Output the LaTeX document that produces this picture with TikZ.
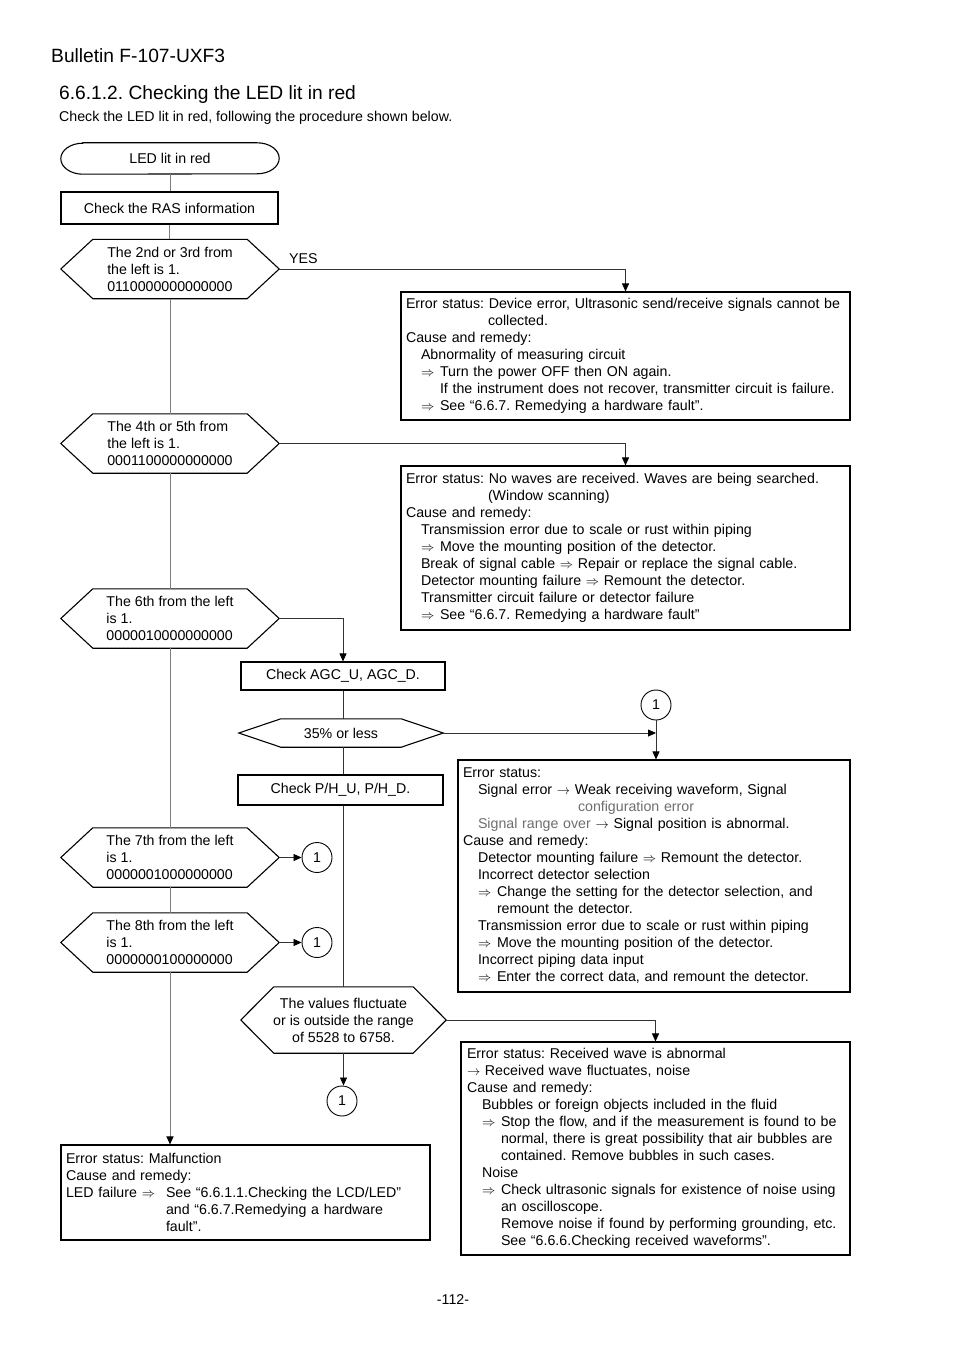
\documentclass[tikz,border=0pt]{standalone}
\usepackage{fontspec}
\setmainfont{Liberation Sans}
\frenchspacing
\usetikzlibrary{arrows.meta}
\definecolor{txtgray}{RGB}{110,110,110}
\definecolor{spinegray}{RGB}{125,125,125}
\newcommand\RA{\scalebox{0.92}{$\Rightarrow$}}
\newcommand\RI{\scalebox{0.92}{$\rightarrow$}}
\newcommand\IA{\hspace*{15pt}}
\newcommand\AR{\makebox[19pt][l]{\RA}}
\newcommand\hexdraw[2]{\draw[boxline] (#1.west) -- ([xshift=#2]#1.north west) -- ([xshift=-#2]#1.north east) -- (#1.east) -- ([xshift=-#2]#1.south east) -- ([xshift=#2]#1.south west) -- cycle;}
\tikzset{
  txt/.style={font=\fontsize{14.2}{17}\selectfont},
  boxline/.style={draw=black, line width=1.1pt},
  pbox/.style={txt, draw=black, line width=1.1pt, rectangle, inner ysep=0pt, align=left},
  sbox/.style={txt, draw=black, line width=1.1pt, rectangle, inner sep=0pt, align=center},
  hexnode/.style={txt, rectangle, inner sep=0pt, align=left},
  conn/.style={draw=black!80, line width=0.8pt},
  spine/.style={draw=spinegray, line width=1pt},
  arr/.style={-{Triangle[length=8pt,width=7pt,color=black]}},
  circ/.style={txt, circle, draw=black, line width=0.9pt, minimum size=30pt, inner sep=0pt}
}
\begin{document}
\begin{tikzpicture}[x=1pt,y=-1pt]
\path[use as bounding box, fill=white] (0,0) rectangle (954,1351);

% headings
\node[anchor=base west, inner sep=0pt, font=\fontsize{19.2}{22}\selectfont] (hd1) at (51,63) {Bulletin F-107-UXF3};
\node[anchor=base west, inner sep=0pt, font=\fontsize{19.2}{22}\selectfont] (hd2) at (59,99.5) {6.6.1.2. Checking the LED lit in red};
\node[anchor=base west, inner sep=0pt, txt] (hd3) at (59,122) {Check the LED lit in red, following the procedure shown below.};
\node[inner sep=0pt, txt] (pg) at (453,1300) {-112-};

% terminator
\node[txt, inner sep=0pt, minimum width=218pt, minimum height=31pt] (t) at (170,158.5) {LED lit in red};
\draw[boxline] ([xshift=22]t.north west) -- ([xshift=-22]t.north east)
  arc[start angle=90, end angle=-90, x radius=22pt, y radius=15.5pt]
  -- ([xshift=22]t.south west)
  arc[start angle=270, end angle=90, x radius=22pt, y radius=15.5pt] -- cycle;

% process boxes
\node[sbox, minimum width=217pt, minimum height=32pt] (r1) at (169.5,208) {Check the RAS information};
\node[sbox, minimum width=204pt, minimum height=28pt] (r2) at (343,676) {Check AGC\_U, AGC\_D.};
\node[sbox, minimum width=205pt, minimum height=30pt] (r3) at (340.5,790) {Check P/H\_U, P/H\_D.};

% hexagon decisions
\node[hexnode, minimum width=218pt, minimum height=59pt] (h1) at (170,269) {The 2nd or 3rd from\\the left is 1.\\0110000000000000};
\hexdraw{h1}{32}
\node[hexnode, minimum width=218pt, minimum height=59pt] (h2) at (170,443.5) {The 4th or 5th from\\the left is 1.\\0001100000000000};
\hexdraw{h2}{32}
\node[hexnode, minimum width=218pt, minimum height=59pt] (h3) at (170,618.5) {The 6th from the left\\is 1.\\0000010000000000};
\hexdraw{h3}{32}
\node[hexnode, minimum width=204pt, minimum height=28pt, align=center] (h4) at (341,733) {35\% or less};
\hexdraw{h4}{42}
\node[hexnode, minimum width=218pt, minimum height=59pt] (h6) at (170,857.5) {The 7th from the left\\is 1.\\0000001000000000};
\hexdraw{h6}{32}
\node[hexnode, minimum width=218pt, minimum height=59pt] (h7) at (170,942.5) {The 8th from the left\\is 1.\\0000000100000000};
\hexdraw{h7}{32}
\node[hexnode, minimum width=205pt, minimum height=66pt, align=center] (h5) at (343.5,1020) {The values fluctuate\\or is outside the range\\of 5528 to 6758.};
\hexdraw{h5}{33}

% connector circles
\node[circ] (c1) at (656,705) {1};
\node[circ] (c2) at (317,857.5) {1};
\node[circ] (c3) at (317,942.5) {1};
\node[circ] (c4) at (342,1101) {1};

% result boxes
\node[pbox, inner xsep=5pt, text width=439pt, minimum height=128pt] (b1) at (625.5,356) {%
Error status: Device error, Ultrasonic send/receive signals cannot be\\
\hspace*{82pt}collected.\\
Cause and remedy:\\
\IA Abnormality of measuring circuit\\
\IA\AR Turn the power OFF then ON again.\\
\IA\hspace*{19pt}If the instrument does not recover, transmitter circuit is failure.\\
\IA\AR See “6.6.7. Remedying a hardware fault”.};

\node[pbox, inner xsep=5pt, text width=439pt, minimum height=164pt] (b2) at (625.5,548) {%
Error status: No waves are received. Waves are being searched.\\
\hspace*{82pt}(Window scanning)\\
Cause and remedy:\\
\IA Transmission error due to scale or rust within piping\\
\IA\AR Move the mounting position of the detector.\\
\IA Break of signal cable \RA{} Repair or replace the signal cable.\\
\IA Detector mounting failure \RA{} Remount the detector.\\
\IA Transmitter circuit failure or detector failure\\
\IA\AR See “6.6.7. Remedying a hardware fault”};

\node[pbox, inner xsep=5pt, text width=382pt, minimum height=232pt] (b3) at (654,876) {%
Error status:\\
\IA Signal error \RI{} Weak receiving waveform, Signal\\
\hspace*{115pt}{\color{txtgray}configuration error}\\
\IA{\color{txtgray}Signal range over} \RI{} Signal position is abnormal.\\
Cause and remedy:\\
\IA Detector mounting failure \RA{} Remount the detector.\\
\IA Incorrect detector selection\\
\IA\AR Change the setting for the detector selection, and\\
\IA\hspace*{19pt}remount the detector.\\
\IA Transmission error due to scale or rust within piping\\
\IA\AR Move the mounting position of the detector.\\
\IA Incorrect piping data input\\
\IA\AR Enter the correct data, and remount the detector.};

\node[pbox, inner xsep=6pt, text width=377pt, minimum height=213pt] (b4) at (655.5,1148.5) {%
Error status: Received wave is abnormal\\
\RI{} Received wave fluctuates, noise\\
Cause and remedy:\\
\IA Bubbles or foreign objects included in the fluid\\
\IA\AR Stop the flow, and if the measurement is found to be\\
\IA\hspace*{19pt}normal, there is great possibility that air bubbles are\\
\IA\hspace*{19pt}contained. Remove bubbles in such cases.\\
\IA Noise\\
\IA\AR Check ultrasonic signals for existence of noise using\\
\IA\hspace*{19pt}an oscilloscope.\\
\IA\hspace*{19pt}Remove noise if found by performing grounding, etc.\\
\IA\hspace*{19pt}See “6.6.6.Checking received waveforms”.};

\node[pbox, inner xsep=5pt, text width=359pt, minimum height=95pt] (b5) at (245.5,1192.5) {%
Error status: Malfunction\\
Cause and remedy:\\
\makebox[100pt][l]{LED failure \RA}See “6.6.1.1.Checking the LCD/LED”\\
\hspace*{100pt}and “6.6.7.Remedying a hardware\\
\hspace*{100pt}fault”.};

% spine
\draw[spine] (t.south) -- (t.south |- r1.north);
\draw[spine] (r1.south) -- (r1.south |- h1.north);
\draw[spine] (h1.south) -- (h2.north);
\draw[spine] (h2.south) -- (h3.north);
\draw[spine] (h3.south) -- (h6.north);
\draw[spine] (h6.south) -- (h7.north);
\draw[spine, arr] (h7.south) -- (h7.south |- b5.north);

% branches
\draw[conn, arr] (h1.east) -| (b1.north);
\node[txt, anchor=west, inner sep=0pt] (yes) at (289,259) {YES};
\draw[conn, arr] (h2.east) -| (b2.north);
\draw[conn, arr] (h3.east) -| (r2.north);
\draw[conn] (r2.south) -- (r2.south |- h4.north);
\draw[conn] (r2.south |- h4.south) -- (r2.south |- r3.north);
\draw[conn] (r2.south |- r3.south) -- (r2.south |- h5.north);
\draw[conn, arr] (h4.east) -- (h4.east -| c1.south);
\draw[conn, arr] (c1.south) -- (c1.south |- b3.north);
\draw[conn, arr] (h6.east) -- (c2.west);
\draw[conn, arr] (h7.east) -- (c3.west);
\draw[conn, arr] (h5.east) -| (b4.north);
\draw[conn, arr] (h5.south) -- (h5.south |- c4.north);
\end{tikzpicture}
\end{document}
